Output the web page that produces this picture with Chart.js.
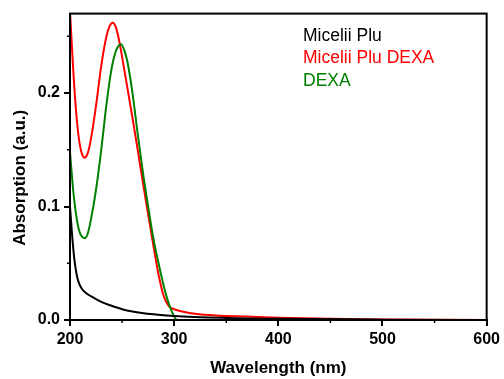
<!DOCTYPE html>
<html>
<head>
<meta charset="utf-8">
<script src="https://cdn.jsdelivr.net/npm/chart.js@4.4.1/dist/chart.umd.min.js"></script>
<style>
  html, body { margin: 0; padding: 0; background: #fff; }
  #wrap { width: 504px; height: 379px; }
</style>
</head>
<body>
<div id="wrap"><canvas id="chart" width="504" height="379"></canvas></div>
<script>
// series labels and colours
const seriesNames = ["Micelii Plu", "Micelii Plu DEXA", "DEXA"];
const seriesColors = ["#000000", "#ff0000", "#008000"];
const yTitle = "Absorption (a.u.)";

// Micelii Plu (black)
const pluWavelength = [200, 202, 204, 206, 208, 211, 215, 220, 230, 240, 250, 260, 280, 300, 350, 400, 500, 600];
const pluAbs = [0.100, 0.075, 0.055, 0.042, 0.034, 0.028, 0.024, 0.021, 0.016, 0.0125, 0.0095, 0.0075, 0.005, 0.0035, 0.0018, 0.001, 0.0003, 0];

// Micelii Plu DEXA (red)
const pluDexaWavelength = [200, 203, 206, 209, 212, 214, 217, 220, 225, 230, 235, 238, 241, 244, 247, 250, 255, 260, 265, 270, 275, 280, 285, 290, 295, 300, 310, 320, 340, 370, 400, 450, 500, 600];
const pluDexaAbs = [0.272, 0.222, 0.182, 0.157, 0.145, 0.143, 0.147, 0.159, 0.189, 0.224, 0.250, 0.259, 0.262, 0.258, 0.247, 0.232, 0.205, 0.178, 0.150, 0.121, 0.093, 0.066, 0.040, 0.021, 0.012, 0.0095, 0.007, 0.0055, 0.004, 0.003, 0.002, 0.001, 0.0005, 0];

// DEXA (green)
const dexaWavelength = [200, 203, 206, 209, 212, 214, 217, 220, 225, 230, 235, 240, 244, 247, 249, 252, 255, 260, 265, 270, 275, 280, 285, 290, 295, 300, 302];
const dexaAbs = [0.148, 0.115, 0.092, 0.078, 0.073, 0.072, 0.076, 0.088, 0.115, 0.150, 0.190, 0.222, 0.237, 0.242, 0.243, 0.238, 0.228, 0.200, 0.164, 0.130, 0.100, 0.072, 0.050, 0.030, 0.014, 0.003, 0];

const xMin = 200, xMax = 600, xStep = 50;
const yMin = 0, yMax = 0.27, yStep = 0.05;

function toPoints(xs, ys) {
  return xs.map((x, i) => ({ x: x, y: ys[i] }));
}

const isMajorY = v => Math.abs(Math.round(v * 10) - v * 10) < 1e-6;
const isMajorX = v => v % 100 === 0;

// frame, minor ticks, y title and the text-only legend
const framePlugin = {
  id: 'frame',
  afterDraw(chart) {
    const ctx = chart.ctx;
    const a = chart.chartArea;
    const xs = chart.scales.x, ys = chart.scales.y;
    ctx.save();
    ctx.strokeStyle = '#000';
    ctx.lineWidth = 2;
    ctx.strokeRect(a.left, a.top, a.right - a.left, a.bottom - a.top);
    // minor ticks outward
    ctx.lineWidth = 1.5;
    ctx.beginPath();
    xs.ticks.forEach(t => {
      if (!isMajorX(t.value)) {
        const px = xs.getPixelForValue(t.value);
        ctx.moveTo(px, a.bottom);
        ctx.lineTo(px, a.bottom + 3);
      }
    });
    ys.ticks.forEach(t => {
      if (!isMajorY(t.value)) {
        const py = ys.getPixelForValue(t.value);
        ctx.moveTo(a.left, py);
        ctx.lineTo(a.left - 3, py);
      }
    });
    ctx.stroke();

    // y axis title, sits a bit below the axis middle in the original
    ctx.save();
    ctx.translate(a.left - 50, (a.top + a.bottom) / 2 + 11);
    ctx.rotate(-Math.PI / 2);
    ctx.font = 'bold 17px "Liberation Sans", Arial, sans-serif';
    ctx.fillStyle = '#000';
    ctx.textAlign = 'center';
    ctx.textBaseline = 'middle';
    ctx.fillText(yTitle, 0, 0);
    ctx.restore();

    // legend
    ctx.font = '17.5px "Liberation Sans", Arial, sans-serif';
    ctx.textAlign = 'left';
    ctx.textBaseline = 'alphabetic';
    seriesNames.forEach((name, i) => {
      ctx.fillStyle = seriesColors[i];
      ctx.fillText(name, a.left + 233, a.top + 27 + i * 22.5);
    });
    ctx.restore();
  }
};

const ctx = document.getElementById('chart').getContext('2d');
new Chart(ctx, {
  type: 'line',
  data: {
    datasets: [
      { label: seriesNames[0], data: toPoints(pluWavelength, pluAbs), borderColor: seriesColors[0], order: 0 },
      { label: seriesNames[1], data: toPoints(pluDexaWavelength, pluDexaAbs), borderColor: seriesColors[1], order: 2 },
      { label: seriesNames[2], data: toPoints(dexaWavelength, dexaAbs), borderColor: seriesColors[2], order: 1 }
    ]
  },
  options: {
    responsive: false,
    animation: false,
    layout: { padding: { left: 0, right: 16, top: 12, bottom: 0 } },
    elements: {
      point: { radius: 0 },
      line: { borderWidth: 2, cubicInterpolationMode: 'monotone', fill: false }
    },
    plugins: {
      legend: { display: false },
      tooltip: { enabled: false }
    },
    scales: {
      x: {
        type: 'linear',
        min: xMin, max: xMax,
        afterFit(scale) { scale.height = 59; },
        border: { display: true, color: '#000', width: 2 },
        grid: {
          drawOnChartArea: false,
          drawTicks: true,
          tickLength: 6,
          lineWidth: 2,
          color: c => isMajorX(c.tick.value) ? '#000' : 'rgba(0,0,0,0)'
        },
        ticks: {
          stepSize: xStep,
          includeBounds: false,
          autoSkip: false,
          maxRotation: 0,
          padding: 4,
          color: '#000',
          font: { family: '"Liberation Sans", Arial, sans-serif', size: 16, weight: 'bold' },
          callback: v => isMajorX(v) ? String(v) : ''
        },
        title: {
          display: true,
          text: 'Wavelength (nm)',
          color: '#000',
          padding: { top: 4, bottom: 0 },
          font: { family: '"Liberation Sans", Arial, sans-serif', size: 17, weight: 'bold' }
        }
      },
      y: {
        type: 'linear',
        min: yMin, max: yMax,
        afterFit(scale) { scale.width = 70; },
        border: { display: true, color: '#000', width: 2 },
        grid: {
          drawOnChartArea: false,
          drawTicks: true,
          tickLength: 6,
          lineWidth: 2,
          color: c => isMajorY(c.tick.value) ? '#000' : 'rgba(0,0,0,0)'
        },
        ticks: {
          stepSize: yStep,
          includeBounds: false,
          autoSkip: false,
          padding: 4,
          color: '#000',
          font: { family: '"Liberation Sans", Arial, sans-serif', size: 16, weight: 'bold' },
          callback: v => isMajorY(v) ? v.toFixed(1) : ''
        }
      }
    }
  },
  plugins: [framePlugin]
});
</script>
</body>
</html>
